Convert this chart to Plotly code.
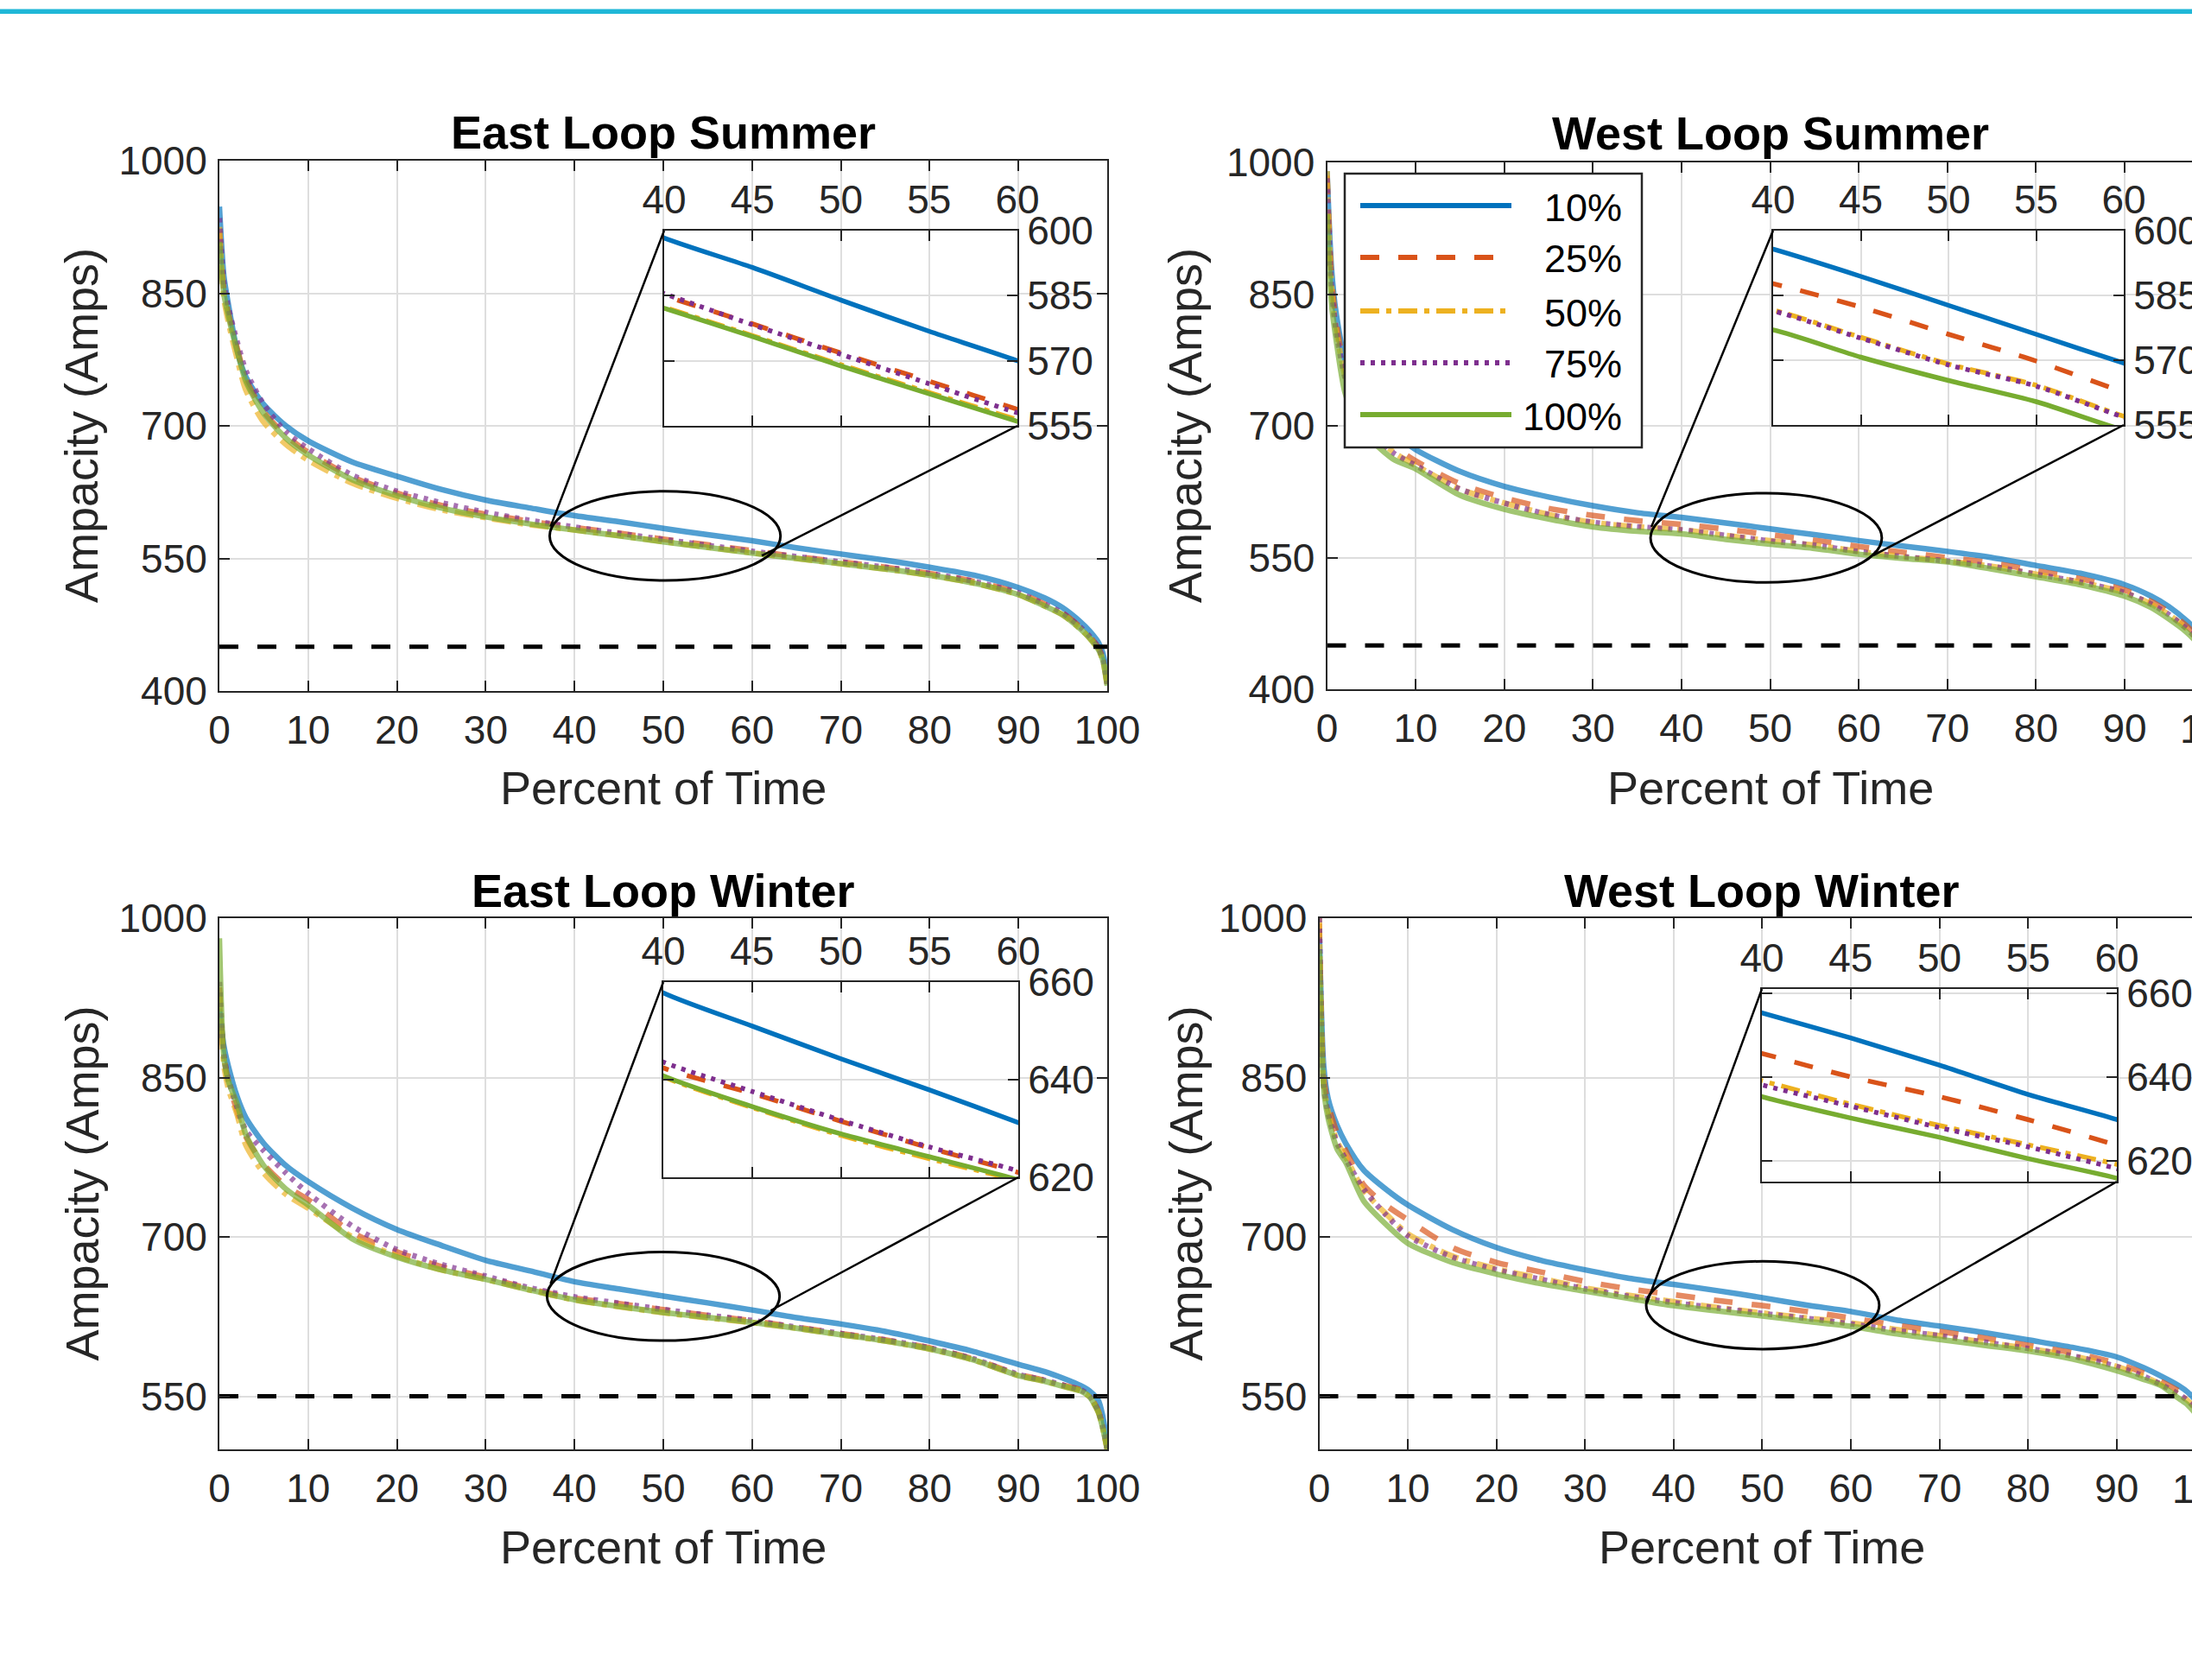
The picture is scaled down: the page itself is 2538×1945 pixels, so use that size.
import plotly.graph_objects as go

W, H = 2538, 1945

# ---------------- data ----------------
pct = [0, 0.5, 1, 2, 3, 5, 7.5, 10, 15, 20, 25, 30, 35, 40, 45, 50, 55, 60,
       65, 70, 75, 80, 85, 90, 93, 95, 97, 98, 99, 99.5, 100]

labels = ['10%', '25%', '50%', '75%', '100%']

# East Loop Summer
es_10 = [948, 870, 838, 785, 755, 724, 700, 683, 659, 643, 628, 616, 607, 598.3, 591.5, 584.0, 576.8, 570.0,
         562, 555, 548, 540, 531, 517, 505, 494, 478, 468, 455, 443, 418]
es_25 = [920, 855, 828, 788, 753, 716, 689, 670, 642, 624, 610, 600, 592, 585.0, 578.5, 571.8, 565.3, 558.8,
         552, 546, 540, 533, 524, 511, 498, 488, 472, 462, 449, 437, 408]
es_50 = [925, 845, 818, 776, 740, 704, 679, 661, 635, 618, 605, 596, 588, 582.3, 575.8, 569.1, 562.7, 556.4,
         550, 544, 538, 531, 522, 509, 496, 486, 470, 460, 447, 435, 406]
es_75 = [935, 862, 834, 795, 762, 724, 693, 674, 644, 626, 613, 602, 593, 585.5, 578.3, 571.5, 564.7, 558.0,
         552, 546, 540, 533, 524, 511, 498, 488, 472, 462, 449, 437, 408]
es_100 = [908, 850, 825, 785, 750, 714, 686, 667, 639, 621, 607, 597, 589, 582.1, 575.6, 568.8, 562.4, 556.0,
          550, 544, 538, 531, 522, 509, 496, 486, 470, 460, 447, 435, 406]

# West Loop Summer
ws_10 = [990, 880, 830, 775, 748, 718, 692, 673, 648, 631, 619, 609, 601, 595.7, 589.4, 582.7, 576.0, 569.3,
         563, 557, 550, 541, 532, 519, 506, 494, 478, 468, 455, 443, 420]
ws_25 = [985, 870, 820, 765, 735, 702, 677, 660, 634, 618, 606, 598, 592, 587.7, 582.3, 576.0, 569.8, 562.6,
         556, 550, 544, 535, 526, 513, 500, 488, 472, 462, 449, 437, 414]
ws_50 = [990, 860, 812, 758, 728, 694, 670, 655, 628, 612, 599, 590, 585, 581.6, 575.3, 569.1, 564.2, 557.0,
         551, 546, 540, 531, 522, 510, 497, 485, 469, 459, 446, 434, 411]
ws_75 = [982, 858, 810, 756, 726, 693, 669, 655, 628, 612, 599, 590, 585, 581.4, 575.1, 568.9, 564.0, 556.8,
         551, 546, 540, 531, 522, 510, 497, 485, 469, 459, 446, 434, 411]
ws_100 = [941, 840, 800, 739, 713, 684, 662, 651, 621, 605, 594, 585, 580, 577.0, 570.7, 565.3, 560.4, 553.8,
          549, 545, 537, 528, 519, 506, 493, 480, 465, 455, 442, 430, 408]

# East Loop Winter
ew_10 = [915, 880, 861, 832, 812, 788, 767, 752, 727, 707, 692, 678, 668, 657.8, 651.0, 644.3, 637.9, 631.2,
         624, 618, 611, 602, 592, 580, 573, 567, 560, 555, 546, 531, 505]
ew_25 = [935, 870, 847, 818, 794, 768, 748, 735, 704, 686, 672, 662, 651, 642.4, 637.2, 631.5, 626.0, 621.0,
         615, 609, 603, 595.5, 585, 570.5, 565, 560.5, 556, 550.5, 536, 521, 501]
ew_50 = [930, 862, 840, 815, 786, 760, 740, 727, 700, 682, 669, 660, 650, 640.6, 634.3, 628.6, 623.8, 619.3,
         614, 608, 602, 594.5, 584, 569.5, 564, 559.5, 555, 549.5, 535, 520, 500]
ew_75 = [940, 872, 849, 822, 800, 781, 760, 741, 710, 688, 674, 663, 652, 643.6, 637.6, 631.7, 626.2, 621.3,
         615, 609, 603, 595.5, 585, 570.5, 565, 560.5, 556, 550.5, 536, 521, 501]
ew_100 = [981, 870, 847, 825, 796, 767, 745, 730, 698, 681, 669, 660, 650, 640.8, 634.5, 628.9, 624.2, 619.5,
          614, 608, 602, 594.5, 584, 569.5, 564, 559.5, 555, 549.5, 535, 520, 500]

# West Loop Winter
ww_10 = [990, 861, 830, 805, 788, 763, 745, 730, 707, 690, 678, 669, 661, 655.3, 649.3, 642.8, 635.8, 629.8,
         622, 616, 610, 603, 596, 587, 577, 569, 560, 554, 545, 535, 515]
ww_25 = [995, 850, 825, 798, 781, 749, 730, 716, 690, 676, 667, 658, 651, 645.6, 640.0, 635.3, 629.8, 623.7,
         617, 611, 605, 598, 591, 581, 572, 564, 555, 549, 540, 530, 510]
ww_50 = [1000, 845, 818, 790, 775, 744, 722, 703, 682, 670, 661, 652, 645, 639.1, 633.5, 628.4, 623.8, 619.1,
         613, 607, 601, 595, 588, 578, 569, 561, 552, 546, 537, 527, 508]
ww_75 = [1000, 843, 816, 788, 773, 745, 721, 701, 681, 669, 660, 651, 644, 638.1, 633.0, 627.9, 623.3, 618.1,
         612, 607, 601, 595, 588, 578, 569, 561, 552, 546, 537, 527, 508]
ww_100 = [970, 840, 812, 783, 770, 734, 712, 694, 676, 665, 656, 649, 642, 635.3, 630.2, 625.6, 620.5, 615.8,
          609, 603.5, 598, 592.6, 585, 574, 566, 560, 548, 542, 532, 522, 505]

summer_limit = 450
winter_limit = 550

x_ticks = list(range(0, 101, 10))
inset_x_ticks = [40, 45, 50, 55, 60]
summer_y_ticks = [400, 550, 700, 850, 1000]
winter_y_ticks = [550, 700, 850, 1000]
summer_inset_ticks = [555, 570, 585, 600]
winter_inset_ticks = [620, 640, 660]

# ---------------- style ----------------
colors = ['#0072BD', '#D95319', '#EDB120', '#7E2F8E', '#77AC30']
dashes = ['solid', '22px,22px', '22px,8px,6px,8px', '5px,7px', 'solid']
FONT = 'Liberation Sans, Arial, Helvetica, sans-serif'
AX = '#262626'
GRID = '#dedede'
TICKSIZE = 46
TITLESIZE = 54


def fx(p):
    return p / W


def fy(p):
    return 1 - p / H


panels = [
    dict(title='East Loop Summer', data=[es_10, es_25, es_50, es_75, es_100], limit=summer_limit,
         yr=[400, 1000], yt=summer_y_ticks, dx=[254, 1282], dy=[186, 800], xr=[0, 100], left=True,
         ins=[769, 1178, 267, 493], iyr=[555, 600], iyt=summer_inset_ticks,
         ell=[37.2, 63.2, 525, 626], c1=(37.3, 586), c2=(61.1, 553),
         ty=153, xty=912, ytx=94),
    dict(title='West Loop Summer', data=[ws_10, ws_25, ws_50, ws_75, ws_100], limit=summer_limit,
         yr=[400, 1000], yt=summer_y_ticks, dx=[1536.5, 2538], dy=[188, 798], xr=[0, 97.6], left=False,
         ins=[2053, 2459, 267, 492], iyr=[555, 600], iyt=summer_inset_ticks,
         ell=[36.5, 62.6, 521.6, 623.4], c1=(36.6, 585), c2=(61.6, 552.3),
         ty=154, xty=912, ytx=1372),
    dict(title='East Loop Winter', data=[ew_10, ew_25, ew_50, ew_75, ew_100], limit=winter_limit,
         yr=[500, 1000], yt=winter_y_ticks, dx=[254, 1282], dy=[1063, 1678], xr=[0, 100], left=True,
         ins=[768, 1179, 1137, 1363], iyr=[620, 660], iyt=winter_inset_ticks,
         ell=[36.9, 63.1, 602.4, 685.8], c1=(37.3, 656), c2=(62.1, 630.7),
         ty=1031, xty=1791, ytx=94),
    dict(title='West Loop Winter', data=[ww_10, ww_25, ww_50, ww_75, ww_100], limit=winter_limit,
         yr=[500, 1000], yt=winter_y_ticks, dx=[1527.5, 2538], dy=[1063, 1678], xr=[0, 98.5], left=False,
         ins=[2040, 2451, 1145, 1368], iyr=[615, 661], iyt=winter_inset_ticks,
         ell=[36.9, 63.2, 594.4, 677], c1=(37.0, 638), c2=(61.2, 614),
         ty=1031, xty=1791, ytx=1372),
]

fig = go.Figure()
layout = dict(width=W, height=H, margin=dict(l=0, r=0, t=0, b=0, pad=0, autoexpand=False),
              paper_bgcolor='white', plot_bgcolor='white', showlegend=False,
              font=dict(family=FONT, size=TICKSIZE, color=AX))
shapes = []
annotations = []


def axname(n, letter):
    return letter if n == 1 else f'{letter}{n}'


def axkey(n, letter):
    return f'{letter}axis' if n == 1 else f'{letter}axis{n}'


for i, p in enumerate(panels):
    m = i + 1
    k = i + 5
    xa, ya = axname(m, 'x'), axname(m, 'y')
    xi, yi = axname(k, 'x'), axname(k, 'y')

    def px2paper_x(v, p=p):
        d0, d1 = fx(p['dx'][0]), fx(p['dx'][1])
        r0, r1 = p['xr']
        return d0 + (v - r0) / (r1 - r0) * (d1 - d0)

    def px2paper_y(v, p=p):
        d0, d1 = fy(p['dy'][1]), fy(p['dy'][0])
        r0, r1 = p['yr']
        return d0 + (v - r0) / (r1 - r0) * (d1 - d0)

    # main curves
    for s in range(5):
        fig.add_trace(go.Scatter(x=pct, y=p['data'][s], xaxis=xa, yaxis=ya, mode='lines',
                                 line=dict(color=colors[s], width=6.5, dash=dashes[s],
                                           shape='spline', smoothing=0.7),
                                 opacity=0.68, hoverinfo='skip'))
    fig.add_trace(go.Scatter(x=[0, 100], y=[p['limit'], p['limit']], xaxis=xa, yaxis=ya, mode='lines',
                             line=dict(color='black', width=5, dash='22px,22px'), hoverinfo='skip'))
    # inset curves
    for s in range(5):
        fig.add_trace(go.Scatter(x=pct, y=p['data'][s], xaxis=xi, yaxis=yi, mode='lines',
                                 line=dict(color=colors[s], width=5.5, dash=dashes[s],
                                           shape='spline', smoothing=0.7),
                                 hoverinfo='skip'))

    common = dict(showgrid=True, gridcolor=GRID, gridwidth=2, showline=True, linecolor=AX, linewidth=2,
                  ticks='inside', ticklen=12, tickwidth=2, tickcolor=AX, zeroline=False, automargin=False,
                  tickfont=dict(size=TICKSIZE, color=AX, family=FONT))
    layout[axkey(m, 'x')] = dict(common, domain=[fx(p['dx'][0]), fx(p['dx'][1])], range=p['xr'],
                                 tickvals=x_ticks, anchor=ya, mirror='ticks', ticklabelstandoff=4)
    layout[axkey(m, 'y')] = dict(common, domain=[fy(p['dy'][1]), fy(p['dy'][0])], range=p['yr'],
                                 tickvals=p['yt'], anchor=xa, mirror='ticks' if p['left'] else False,
                                 ticklabelstandoff=3)
    layout[axkey(k, 'x')] = dict(common, domain=[fx(p['ins'][0]), fx(p['ins'][1])], range=[40, 60],
                                 tickvals=inset_x_ticks, anchor=yi, side='top', mirror='ticks',
                                 ticklabelstandoff=0)
    layout[axkey(k, 'y')] = dict(common, domain=[fy(p['ins'][3]), fy(p['ins'][2])], range=p['iyr'],
                                 tickvals=p['iyt'], anchor=xi, side='right', mirror='ticks',
                                 ticklabelstandoff=0)

    # zoom ellipse and connectors
    e = p['ell']
    shapes.append(dict(type='circle', xref=xa, yref=ya, x0=e[0], x1=e[1], y0=e[2], y1=e[3],
                       line=dict(color='black', width=3), layer='above'))
    shapes.append(dict(type='line', xref='paper', yref='paper',
                       x0=fx(p['ins'][0]), y0=fy(p['ins'][2]),
                       x1=px2paper_x(p['c1'][0]), y1=px2paper_y(p['c1'][1]),
                       line=dict(color='black', width=2.5), layer='above'))
    shapes.append(dict(type='line', xref='paper', yref='paper',
                       x0=fx(p['ins'][1]), y0=fy(p['ins'][3]),
                       x1=px2paper_x(p['c2'][0]), y1=px2paper_y(p['c2'][1]),
                       line=dict(color='black', width=2.5), layer='above'))

    # titles
    annotations.append(dict(text=f'<b>{p["title"]}</b>', xref='paper', yref='paper',
                            x=px2paper_x(50), y=fy(p['ty']), xanchor='center', yanchor='middle',
                            showarrow=False, font=dict(size=TITLESIZE, color='black', family=FONT)))
    annotations.append(dict(text='Percent of Time', xref='paper', yref='paper',
                            x=px2paper_x(50), y=fy(p['xty']), xanchor='center', yanchor='middle',
                            showarrow=False, font=dict(size=TITLESIZE, color=AX, family=FONT)))
    annotations.append(dict(text='Ampacity (Amps)', xref='paper', yref='paper', textangle=-90,
                            x=fx(p['ytx']), y=(fy(p['dy'][0]) + fy(p['dy'][1])) / 2,
                            xanchor='center', yanchor='middle',
                            showarrow=False, font=dict(size=TITLESIZE, color=AX, family=FONT)))
    if not p['left']:
        annotations.append(dict(text='100', xref='paper', yref='paper',
                                x=px2paper_x(100), y=fy(p['dy'][1] + 45.5),
                                xanchor='center', yanchor='middle', showarrow=False,
                                font=dict(size=TICKSIZE, color=AX, family=FONT)))

# legend (drawn by hand to match long sample lines)
leg_box = [1557, 1901, 201, 518]
leg_line_x = [1575, 1750]
leg_rows = [238, 298, 360, 420, 480]
shapes.append(dict(type='rect', xref='paper', yref='paper', x0=fx(leg_box[0]), x1=fx(leg_box[1]),
                   y0=fy(leg_box[3]), y1=fy(leg_box[2]), fillcolor='white',
                   line=dict(color=AX, width=2.5), layer='above'))
for s in range(5):
    shapes.append(dict(type='line', xref='paper', yref='paper',
                       x0=fx(leg_line_x[0]), x1=fx(leg_line_x[1]),
                       y0=fy(leg_rows[s]), y1=fy(leg_rows[s]),
                       line=dict(color=colors[s], width=6, dash=dashes[s]), layer='above'))
    annotations.append(dict(text=labels[s], xref='paper', yref='paper', x=fx(1880), y=fy(leg_rows[s] + 2),
                            xanchor='right', yanchor='middle', showarrow=False,
                            font=dict(size=45, color='black', family=FONT)))

# cyan rule at the top of the page
shapes.append(dict(type='rect', xref='paper', yref='paper', x0=0, x1=1, y0=fy(16), y1=fy(10.5),
                   fillcolor='#1FB7D7', line=dict(width=0), layer='above'))

layout['shapes'] = shapes
layout['annotations'] = annotations
fig.update_layout(**layout)

fig.write_html("out.html", config={'displayModeBar': False},
               post_script="document.body.style.margin='0';document.body.style.overflow='hidden';")
